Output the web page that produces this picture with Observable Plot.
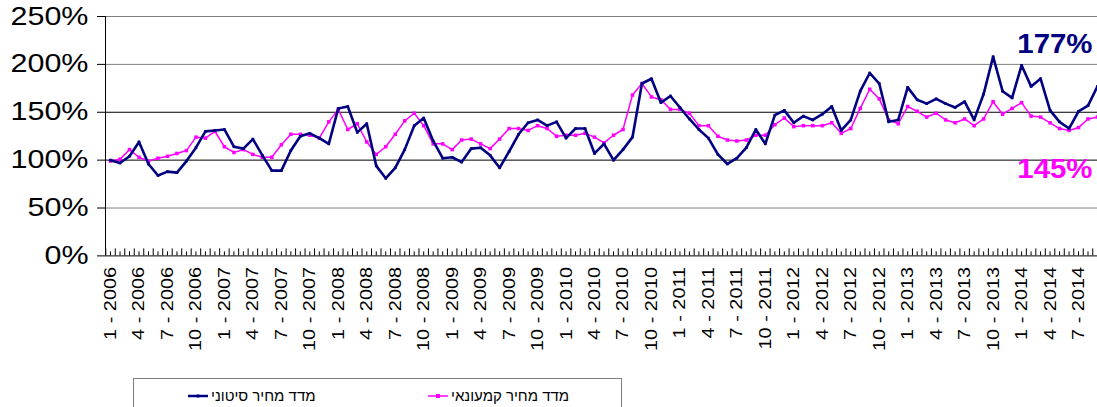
<!DOCTYPE html>
<html><head><meta charset="utf-8">
<script src="https://cdn.jsdelivr.net/npm/d3@7"></script>
<script src="https://cdn.jsdelivr.net/npm/@observablehq/plot@0.6"></script>
<style>
body{margin:0;background:#fff;font-family:"Liberation Sans",Arial,sans-serif;overflow:hidden;}
#legend{position:relative;margin-left:133px;margin-top:6px;width:489px;height:40px;border:1px solid #808080;box-sizing:border-box;}
.item{position:absolute;top:8px;display:flex;align-items:center;white-space:nowrap;font-size:15px;color:#000;}
.item span{margin-left:3px;}
</style></head><body>
<div id="chart"></div>
<div id="legend">
  <div class="item" style="left:54px"><svg width="20" height="10"><line x1="0" y1="5" x2="20" y2="5" stroke="#000080" stroke-width="2.5"/><rect x="8.5" y="3.5" width="3" height="3" fill="#000080"/></svg><span dir="rtl" id="l1"></span></div>
  <div class="item" style="left:294px"><svg width="20" height="10"><line x1="0" y1="5" x2="20" y2="5" stroke="#FF00FF" stroke-width="1.5"/><rect x="8" y="3" width="4" height="4" fill="#FF00FF"/></svg><span dir="rtl" id="l2"></span></div>
</div>
<script>
// Series names
const seriesNames = ["מדד מחיר סיטוני", "מדד מחיר קמעונאי"];
// Monthly categories: Jan 2006 .. Sep 2014
const firstYear = 2006;
const monthCount = 105;
const months = Array.from({length: monthCount}, (_, i) => `${(i % 12) + 1} - ${firstYear + Math.floor(i / 12)}`);
// Wholesale price index (%), navy
const wholesale = [100,97,104,119,96,84,88,87,99,113,130,131,132,114,112,122,105,89,89,110,
  125,128,123,117,154,156,129,138,94,81,92,111,136,144,120,102,103,98,112,113,
  105,92,109,127,139,142,136,140,123,133,133,107,117,100,111,124,180,185,160,167,
  155,143,132,123,106,96,102,113,132,117,147,152,139,146,142,148,156,131,142,172,
  191,180,140,142,176,163,159,164,159,155,161,142,169,208,172,165,199,177,185,152,
  140,133,151,157,177];
// Retail price index (%), magenta
const retail = [99,101,111,103,99,102,104,107,110,124,123,130,114,108,111,106,103,103,116,127,
  127,126,123,140,153,132,138,119,106,114,127,141,149,136,117,117,111,121,122,117,
  112,122,133,133,131,136,133,125,126,126,128,124,118,126,132,168,180,166,163,153,
  153,149,136,136,125,121,120,121,126,126,137,144,135,136,136,136,139,128,133,154,
  174,164,142,138,156,151,145,149,142,139,143,136,143,161,148,154,160,146,145,139,
  133,131,134,143,145];
// Y tick values (%)
const yTicks = [0, 50, 100, 150, 200, 250];
// X tick labels every 3 months
const labelIdx = months.map((_, i) => i).filter(i => i % 3 === 0);

document.getElementById("l1").textContent = seriesNames[0];
document.getElementById("l2").textContent = seriesNames[1];

const n = wholesale.length;
const data = wholesale.map((w, i) => ({i, w, r: retail[i]}));
const last = n - 1;
const NAVY = "#000080", PINK = "#FF00FF";

const chart = Plot.plot({
  width: 1097, height: 372,
  marginLeft: 105, marginRight: 0, marginTop: 16, marginBottom: 116.6,
  x: {domain: [-0.53, last], axis: null},
  y: {domain: [0, 250], axis: null},
  style: {fontFamily: "'Liberation Sans', Arial, sans-serif", background: "white", overflow: "visible"},
  marks: [
    Plot.text(labelIdx, {x: d => d, frameAnchor: "bottom", text: d => months[d], rotate: -90, textAnchor: "end", lineAnchor: "middle", dy: 11, fontSize: 17, fill: "#000"}),
    Plot.text(yTicks, {y: d => d, frameAnchor: "left", text: d => d + "%", textAnchor: "end", lineAnchor: "middle", dx: -17, fontSize: 25, fill: "#000"}),
    Plot.ruleY(yTicks.filter(t => t > 0), {y: d => d, stroke: d => (d === 100 || d === 150) ? "#000" : "#808080", strokeWidth: 1}),
    Plot.tickY(yTicks, {y: d => d, stroke: "#000", insetRight: 992 - 8, dx: -8}),
    Plot.tickX(d3.range(n + 1).map(i => i - 0.5), {x: d => d, stroke: "#000", insetTop: 239.4 - 7}),
    Plot.tickX(d3.range(n), {x: d => d, stroke: "#000", insetTop: 239.4 - 4}),
    Plot.ruleY([0], {stroke: "#000"}),
    Plot.ruleX([-0.53], {stroke: "#000"}),
    Plot.line(data, {x: "i", y: "r", stroke: PINK, strokeWidth: 1.5}),
    Plot.dot(data, {x: "i", y: "r", symbol: "square", r: 2, fill: PINK, stroke: null}),
    Plot.line(data, {x: "i", y: "w", stroke: NAVY, strokeWidth: 2.6}),
    Plot.dot(data, {x: "i", y: "w", symbol: "square", r: 1.5, fill: NAVY, stroke: null}),
    Plot.text([last], {x: d => d, y: d => wholesale[d], text: d => wholesale[d] + "%", textAnchor: "end", lineAnchor: "bottom", dx: -5, dy: -33, fontSize: 28, fontWeight: "bold", fill: NAVY}),
    Plot.text([last], {x: d => d, y: d => retail[d], text: d => retail[d] + "%", textAnchor: "end", lineAnchor: "bottom", dx: -5, dy: 60.5, fontSize: 28, fontWeight: "bold", fill: PINK})
  ]
});
document.getElementById("chart").appendChild(chart);

function stretch(g, k) {
  if (!g) return;
  g.querySelectorAll("text").forEach(t => {
    const L = t.getComputedTextLength();
    t.setAttribute("textLength", L * k);
    t.setAttribute("lengthAdjust", "spacingAndGlyphs");
  });
}
const textGroups = chart.querySelectorAll('g[aria-label="text"]');
stretch(textGroups[0], 1.17);
stretch(textGroups[1], 1.22);
stretch(textGroups[2], 1.05);
stretch(textGroups[3], 1.05);
</script>
</body></html>
